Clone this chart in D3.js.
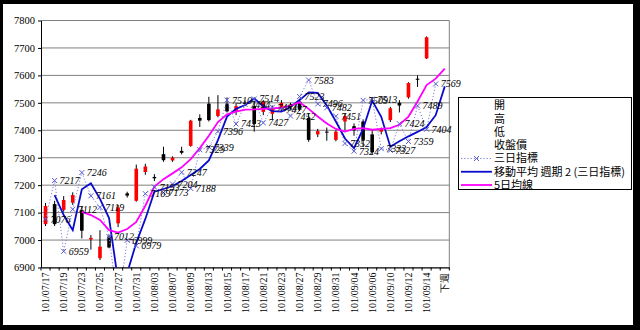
<!DOCTYPE html>
<html><head><meta charset="utf-8">
<script src="https://cdn.jsdelivr.net/npm/d3@7/dist/d3.min.js"></script>
<style>html,body{margin:0;padding:0;background:#000;}svg{display:block}</style>
</head><body>
<svg id="chart" width="640" height="330"></svg>
<script>
const categories = ["101/07/17","101/07/18","101/07/19","101/07/20","101/07/23","101/07/24","101/07/25","101/07/26","101/07/27","101/07/30","101/07/31","101/08/01","101/08/03","101/08/06","101/08/07","101/08/08","101/08/09","101/08/10","101/08/13","101/08/14","101/08/15","101/08/16","101/08/17","101/08/20","101/08/21","101/08/22","101/08/23","101/08/24","101/08/27","101/08/28","101/08/29","101/08/30","101/08/31","101/09/03","101/09/04","101/09/05","101/09/06","101/09/07","101/09/10","101/09/11","101/09/12","101/09/13","101/09/14","","下週"];
const openVals  = [7058,7131,7110,7136,7109,7002,6934,7013,7061,7170,7143,7248,7230,7313,7290,7325,7343,7445,7497,7452,7497,7468,7500,7488,7467,7460,7480,7492,7505,7445,7385,7395,7365,7432,7415,7432,7385,7395,7437,7500,7520,7588,7662,null,null];
const highVals  = [7135,7143,7160,7174,7121,7018,7036,7020,7128,7176,7275,7278,7240,7340,7305,7340,7438,7458,7522,7528,7520,7500,7508,7504,7510,7490,7510,7500,7515,7462,7405,7410,7400,7460,7425,7440,7400,7410,7485,7510,7575,7600,7742,null,null];
const lowVals   = [7051,7051,7103,7128,7006,6965,6927,6970,7047,7155,7140,7238,7215,7285,7285,7312,7340,7412,7432,7447,7465,7455,7488,7395,7455,7440,7470,7475,7470,7358,7375,7362,7360,7400,7380,7340,7312,7385,7430,7465,7515,7558,7660,null,null];
const closeVals = [7124,7058,7146,7164,7034,7008,6976,6973,7119,7162,7260,7268,7225,7291,7300,7318,7435,7435,7437,7476,7469,7488,7496,7423,7504,7478,7500,7488,7475,7365,7397,7392,7395,7452,7400,7365,7320,7405,7480,7490,7572,7584,7739,null,null];
const threeDay  = [7076,7217,6959,7112,7246,7161,7119,7012,6761,6999,6979,7169,7193,7173,7204,7247,7188,7329,7339,7396,7510,7423,7494,7514,7427,7484,7477,7452,7523,7583,7496,7482,7451,7352,7324,7509,7513,7333,7327,7424,7359,7489,7404,7569,null];
const threeDayMA2 = [null,7164,7091,7036,7185,7207,7150,7080,6850,6880,6990,7077,7176,7186,7197,7215,7237,7259,7290,7364,7450,7478,7492,7516,7487,7470,7468,7485,7510,7538,7536,7490,7432,7370,7335,7405,7508,7449,7340,7360,7378,7394,7412,7455,7560];
const ma5 = [null,null,null,null,7103,7091,7073,7036,7027,7040,7066,7125,7195,7222,7243,7265,7295,7335,7380,7430,7458,7468,7475,7476,7478,7480,7482,7490,7502,7478,7450,7425,7405,7395,7405,7408,7402,7405,7408,7420,7450,7505,7565,7588,7625];
const yTicks = [6900,7000,7100,7200,7300,7400,7500,7600,7700,7800];
const legendLabels = ["開","高","低","收盤價","三日指標","移動平均 週期 2 (三日指標)","5日均線"];

const svg = d3.select("#chart");
svg.append("rect").attr("width",640).attr("height",330).attr("fill","#000");
svg.append("rect").attr("x",3).attr("y",4).attr("width",630).attr("height",321).attr("fill","#fff");

const L = 41, R = 449.3, T = 20.5, B = 267.5;
const x = d3.scaleBand().domain(d3.range(categories.length)).range([L, R]);
const cx = i => x(i) + x.bandwidth() / 2;
const y = d3.scaleLinear().domain([6900, 7800]).range([B, T]);

svg.append("defs").append("clipPath").attr("id","plot")
  .append("rect").attr("x",L).attr("y",T-1).attr("width",R-L).attr("height",B-T+1);

// gridlines
svg.append("g").selectAll("line").data(yTicks).join("line")
  .attr("x1",L).attr("x2",R).attr("y1",d=>y(d)).attr("y2",d=>y(d))
  .attr("stroke","#808080").attr("stroke-width",1);
svg.append("line").attr("x1",R).attr("x2",R).attr("y1",T).attr("y2",B).attr("stroke","#808080");

// y axis
const yAxis = svg.append("g").attr("transform",`translate(${L},0)`)
  .call(d3.axisLeft(y).tickValues(yTicks).tickSize(3).tickSizeOuter(0).tickPadding(3).tickFormat(d3.format("d")));
yAxis.select(".domain").attr("stroke","#000");
yAxis.selectAll("text").attr("font-family","Liberation Serif").attr("font-size",10.5).attr("fill","#000");

// x axis
const xAxis = svg.append("g").attr("transform",`translate(0,${B})`)
  .call(d3.axisBottom(x).tickValues(d3.range(0, categories.length, 2)).tickFormat(i => categories[i]).tickSize(0).tickSizeOuter(0));
xAxis.select(".domain").attr("stroke","#000");
xAxis.selectAll("text").attr("transform","rotate(-90)").attr("text-anchor","end")
  .attr("x",-5).attr("y",0).attr("dy","0.35em")
  .attr("font-family","Liberation Serif").attr("font-size",10).attr("fill","#000");
svg.append("g").selectAll("line").data(d3.range(categories.length + 1)).join("line")
  .attr("x1",i => i < categories.length ? x(i) : R).attr("x2",i => i < categories.length ? x(i) : R)
  .attr("y1",B).attr("y2",B+3).attr("stroke","#000");

const plot = svg.append("g").attr("clip-path","url(#plot)");
const idx = d3.range(categories.length).filter(i => openVals[i] != null);

// candles
plot.append("g").selectAll("line").data(idx).join("line")
  .attr("x1",cx).attr("x2",cx).attr("y1",i=>y(highVals[i])).attr("y2",i=>y(lowVals[i]))
  .attr("stroke","#000").attr("stroke-width",1);
plot.append("g").selectAll("rect").data(idx).join("rect")
  .attr("x",i=>cx(i)-1.8).attr("width",3.6)
  .attr("y",i=>y(Math.max(openVals[i],closeVals[i])))
  .attr("height",i=>Math.max(1, Math.abs(y(openVals[i]) - y(closeVals[i]))))
  .attr("fill",i=> closeVals[i] >= openVals[i] ? "#ff0000" : "#000");

const line = d3.line().defined(d => d.v != null).x(d => cx(d.i)).y(d => y(d.v));
const pts = arr => arr.map((v,i)=>({i, v}));

plot.append("path").attr("d", line(pts(threeDay))).attr("fill","none")
  .attr("stroke","#7b7bdc").attr("stroke-width",1).attr("stroke-dasharray","1.2,2");
plot.append("path").attr("d", line(pts(threeDayMA2))).attr("fill","none")
  .attr("stroke","#0a0acc").attr("stroke-width",1.8);
plot.append("path").attr("d", line(pts(ma5))).attr("fill","none")
  .attr("stroke","#ff00ff").attr("stroke-width",1.8);

// markers
const mk = pts(threeDay).filter(d => d.v != null);
const mg = plot.append("g").attr("stroke","#5a5ad0").attr("stroke-width",1);
mg.selectAll("path").data(mk).join("path")
  .attr("d", d => { const X = cx(d.i), Y = y(d.v); return `M${X-2.5},${Y-2.5}L${X+2.5},${Y+2.5}M${X-2.5},${Y+2.5}L${X+2.5},${Y-2.5}`; });

// labels
svg.append("g").selectAll("text").data(mk.filter(d => d.v >= 6900 && d.v <= 7800)).join("text")
  .attr("x", d => cx(d.i) + 5).attr("y", d => y(d.v)).attr("dy","0.35em")
  .attr("font-family","Liberation Serif").attr("font-size",10).attr("font-style","italic").attr("fill","#000")
  .text(d => d.v);

// legend
const lg = svg.append("g");
lg.append("rect").attr("x",458.5).attr("y",97.5).attr("width",173).attr("height",92)
  .attr("fill","#fff").attr("stroke","#000").attr("stroke-width",1);
const ly = i => 105.5 + i * 13.25;
lg.selectAll("text").data(legendLabels).join("text")
  .attr("x",494).attr("y",(d,i)=>ly(i)).attr("dy","0.35em")
  .attr("font-family","Noto Sans CJK TC").attr("font-size",11).attr("fill","#000").text(d=>d);
lg.append("line").attr("x1",461).attr("x2",492).attr("y1",ly(4)).attr("y2",ly(4))
  .attr("stroke","#7b7bdc").attr("stroke-dasharray","1.2,2");
lg.append("path").attr("d",`M${476.5-2.5},${ly(4)-2.5}L${476.5+2.5},${ly(4)+2.5}M${476.5-2.5},${ly(4)+2.5}L${476.5+2.5},${ly(4)-2.5}`)
  .attr("stroke","#5a5ad0");
lg.append("line").attr("x1",461).attr("x2",492).attr("y1",ly(5)).attr("y2",ly(5)).attr("stroke","#0a0acc").attr("stroke-width",1.8);
lg.append("line").attr("x1",461).attr("x2",492).attr("y1",ly(6)).attr("y2",ly(6)).attr("stroke","#ff00ff").attr("stroke-width",1.8);
</script>
</body></html>
